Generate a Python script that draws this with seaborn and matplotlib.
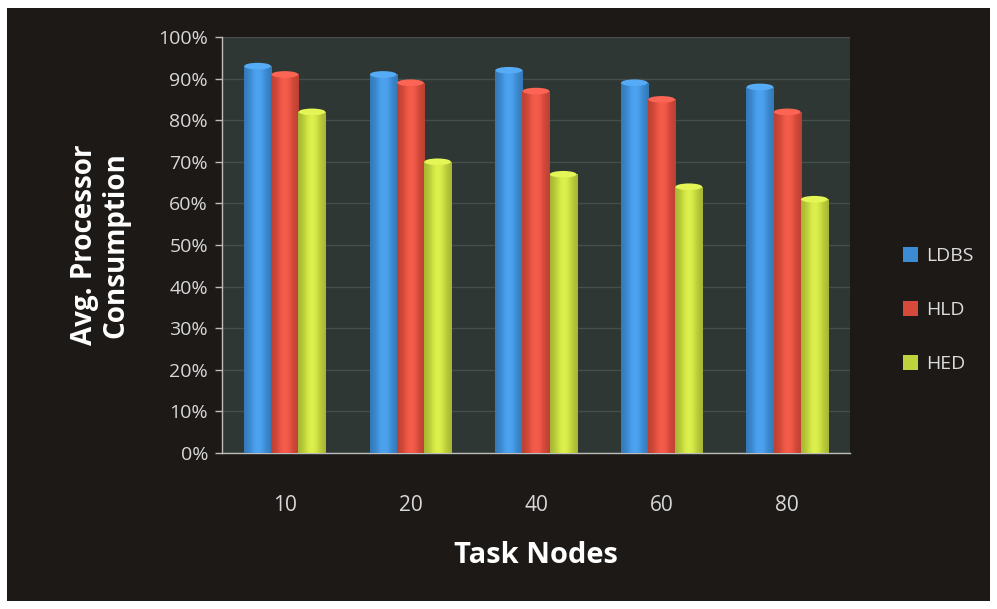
import numpy as np
import pandas as pd
import matplotlib
matplotlib.use("Agg")
import matplotlib.pyplot as plt
from matplotlib.patches import Rectangle, Ellipse
from matplotlib.colors import to_rgb
import seaborn as sns

# Average processor consumption (%) per scheduling scheme
task_nodes = ["10", "20", "40", "60", "80"]
ldbs = [93, 91, 92, 89, 88]
hld = [91, 89, 87, 85, 82]
hed = [82, 70, 67, 64, 61]
series_names = ["LDBS", "HLD", "HED"]
series_colors = ["#3d8bd2", "#d64a3b", "#bfd13c"]
y_ticks = [0, 10, 20, 30, 40, 50, 60, 70, 80, 90, 100]

df = pd.DataFrame({
    "Task Nodes": task_nodes * 3,
    "value": ldbs + hld + hed,
    "scheme": sum([[n] * len(task_nodes) for n in series_names], []),
})

sns.set_theme(style="dark")
plt.rcParams["font.family"] = ["Open Sans", "DejaVu Sans"]

W, H = 997, 609
fig = plt.figure(figsize=(W / 100, H / 100), dpi=100, facecolor="white")
# dark slide background inside a thin white margin
fig.patches.append(Rectangle((7 / W, 8 / H), (990 - 7) / W, (601 - 8) / H,
                             transform=fig.transFigure, facecolor="#1d1917",
                             edgecolor="none", zorder=-10))

ax = fig.add_axes([222 / W, 1 - 453 / H, (850 - 222) / W, (453 - 37) / H])
ax.set_facecolor("#2f3734")

palette = dict(zip(series_names, series_colors))
sns.barplot(data=df, x="Task Nodes", y="value", hue="scheme", order=task_nodes,
            hue_order=series_names, palette=palette, width=0.65, dodge=True,
            saturation=1, ax=ax, legend=False, zorder=3, linewidth=0)

# soft cylinder shading on each bar
xs = np.linspace(0, 1, 64)
shade = 0.85 + 0.25 * np.sin(np.pi * (0.1 + 0.8 * xs)) ** 2
for patch in list(ax.patches):
    x0, y0 = patch.get_x(), patch.get_y()
    w, h = patch.get_width(), patch.get_height()
    base = np.array(to_rgb(patch.get_facecolor()))
    img = np.clip(base[None, :] * shade[:, None] + np.clip(shade[:, None] - 1, 0, 1) * 0.4, 0, 1)
    img = img[None, :, :]
    im = ax.imshow(img, extent=[x0, x0 + w, y0, y0 + h], aspect="auto", zorder=4,
                   interpolation="bilinear")
    im.set_clip_path(patch)
    top_color = np.clip(base * 1.08 + 0.08, 0, 1)
    ax.add_patch(Ellipse((x0 + w / 2, y0 + h), w * 0.98, 1.6, facecolor=top_color,
                         edgecolor="none", zorder=5))

ax.set_xlim(-0.5, len(task_nodes) - 0.5)
ax.set_ylim(0, 100)

ax.set_yticks(y_ticks)
ax.set_yticklabels([f"{t}%" for t in y_ticks])
ax.yaxis.grid(True, color="#454f4a", linewidth=1.0, zorder=0)
ax.xaxis.grid(False)
ax.set_axisbelow(True)

ax.set_xticks(np.arange(-0.5, len(task_nodes), 1.0), minor=True)
ax.tick_params(axis="x", which="minor", length=5, color="#bdbdbd", width=1,
               direction="out")
ax.tick_params(axis="x", which="major", length=0, pad=30, labelsize=15,
               labelcolor="#d8d8d8")
ax.tick_params(axis="y", length=5, color="#bdbdbd", width=1, labelsize=14,
               labelcolor="#d8d8d8", pad=5, left=True)

for side in ["top", "right"]:
    ax.spines[side].set_visible(False)
for side in ["left", "bottom"]:
    ax.spines[side].set_visible(True)
    ax.spines[side].set_color("#bdbdbd")
    ax.spines[side].set_linewidth(1)

ax.set_xlabel("Task Nodes", fontsize=21, fontweight="bold", color="white",
              labelpad=18)
ax.set_ylabel("Avg. Processor\nConsumption", fontsize=20, fontweight="bold",
              color="white", labelpad=20, linespacing=1.1)

# legend
handles = [Rectangle((0, 0), 1, 1, facecolor=c, edgecolor="none") for c in series_colors]
fig.legend(handles, series_names, loc="center left",
           bbox_to_anchor=(885 / W, 1 - 310 / H), frameon=False,
           fontsize=14, labelcolor="#dcdcdc", handlelength=0.8, handleheight=0.8,
           handletextpad=0.4, labelspacing=1.85)

fig.savefig("out.png", dpi=100, facecolor=fig.get_facecolor())
